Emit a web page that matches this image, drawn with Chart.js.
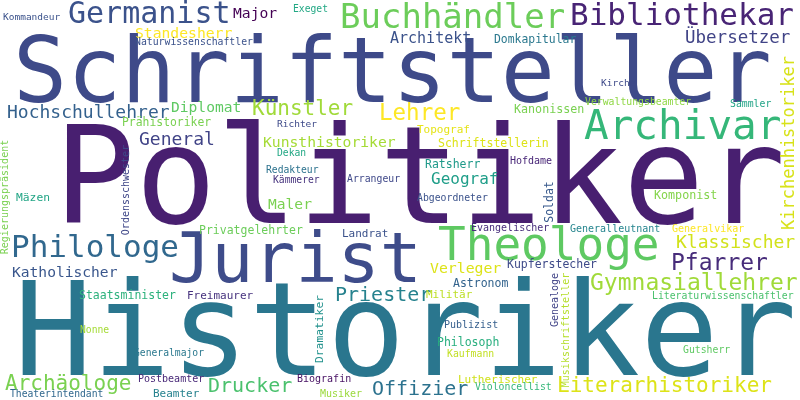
<!DOCTYPE html>
<html>
<head>
<meta charset="utf-8">
<script src="https://cdn.jsdelivr.net/npm/chart.js@4/dist/chart.umd.min.js"></script>
<style>
  body { margin: 0; background: #fff; }
</style>
</head>
<body>
<canvas id="myChart" width="800" height="400"></canvas>
<script>
// Words of the cloud
const words = [
  "Politiker", "Historiker", "Schriftsteller", "Jurist", "Theologe", "Philologe",
  "Archivar", "Buchhändler", "Bibliothekar", "Germanist", "Gymnasiallehrer", "Archäologe",
  "Drucker", "Offizier", "Literarhistoriker", "Lehrer", "Künstler", "Priester",
  "Pfarrer", "Klassischer", "Hochschullehrer", "Katholischer", "Übersetzer", "Kunsthistoriker",
  "General", "Diplomat", "Architekt", "Major", "Standesherr", "Geograf",
  "Maler", "Verleger", "Kupferstecher", "Astronom", "Staatsminister", "Freimaurer",
  "Militär", "Landrat", "Privatgelehrter", "Mäzen", "Evangelischer", "Generalleutnant",
  "Generalvikar", "Komponist", "Ratsherr", "Hofdame", "Topograf", "Schriftstellerin",
  "Redakteur", "Kämmerer", "Arrangeur", "Abgeordneter", "Dekan", "Richter",
  "Prähistoriker", "Kanonissen", "Verwaltungsbeamter", "Sammler", "Kirche", "Domkapitular",
  "Naturwissenschaftler", "Kommandeur", "Exeget", "Publizist", "Philosoph", "Kaufmann",
  "Literaturwissenschaftler", "Gutsherr", "Nonne", "Generalmajor", "Postbeamter", "Biografin",
  "Beamter", "Musiker", "Lutherischer", "Violoncellist", "Theaterintendant",
  // vertical words
  "Kirchenhistoriker", "Regierungspräsident", "Ordensschwester", "Soldat", "Genealoge",
  "Musikschriftsteller", "Dramatiker"
];

// Font size of each word (its weight in the cloud)
const sizes = [
  135, 130, 90, 70, 46, 31,
  41, 34, 31, 30, 23, 21,
  20, 20, 21, 22.5, 21, 20,
  23, 18, 18, 14.6, 17.5, 14.7,
  18, 14.6, 15, 14.7, 14.7, 16,
  14.6, 14.8, 11.5, 11.5, 11.5, 11,
  11, 11, 11.5, 11.3, 10, 10,
  10, 11.7, 11.5, 10, 11, 11.5,
  9.7, 9.7, 9.8, 9.8, 9.7, 9.5,
  11.4, 11.7, 9.8, 9.8, 9.5, 11.4,
  9.8, 9.5, 9.7, 10, 11.5, 9.8,
  9.8, 9.8, 9.7, 9.7, 10, 10,
  11, 10, 11, 9.8, 9.7,
  17, 10, 10, 11.5, 10,
  10, 11.3
];

// Anchor of each word: left / baseline for horizontal words, centre for vertical ones
const posX = [
  54, 14, 13, 169, 438, 11,
  584, 340, 570, 68, 590, 5,
  208, 372, 557, 379, 252, 335,
  671, 676, 7, 12, 685, 263,
  139, 171, 390, 233, 135, 431,
  268, 430, 507, 453, 79, 187,
  426, 342, 199, 16, 471, 570,
  672, 654, 425, 510, 417, 438,
  266, 273, 347, 417, 277, 277,
  122, 514, 585, 730, 601, 494,
  135, 3, 293, 444, 437, 447,
  652, 683, 80, 134, 138, 297,
  153, 320, 458, 475, 10,
  790, 5, 126, 550, 555,
  566, 320
];
const posY = [
  223, 375, 102, 282, 260, 257,
  139, 28, 25, 23, 290, 390,
  392, 395, 392, 120, 115, 301,
  270, 248, 118, 277, 43, 147,
  145, 112, 43, 18, 38, 184,
  209, 273, 268, 287, 299, 299,
  298, 237, 234, 201, 231, 232,
  232, 199, 168, 164, 133, 147,
  173, 183, 182, 201, 156, 127,
  126, 113, 105, 107, 86, 43,
  45, 20, 12, 328, 346, 357,
  299, 353, 333, 356, 382, 382,
  397, 397, 383, 390, 397,
  143, 197, 190, 202, 300,
  330, 329
];

// Colour of each word (viridis palette)
const colours = [
  "#481f70", "#2a768e", "#3e4a89", "#3e4c8a", "#5ec962", "#31688e",
  "#35b779", "#6ccd5a", "#482475", "#3b528b", "#a0da39", "#7ad151",
  "#4ac16d", "#2c728e", "#dde318", "#fde725", "#a0da39", "#26828e",
  "#472c7a", "#d2e21b", "#34618d", "#39568c", "#414487", "#a5db36",
  "#414487", "#5ec962", "#3b528b", "#440154", "#fde725", "#1f9e89",
  "#7ad151", "#dde318", "#3e4a89", "#33638d", "#2db27d", "#46327e",
  "#bddf26", "#3b528b", "#6ccd5a", "#21a585", "#472d7b", "#25858e",
  "#fde725", "#84d44b", "#1f9a8a", "#482677", "#e5e419", "#dde318",
  "#2c728e", "#46337e", "#3f4889", "#3b528b", "#22a884", "#3e4a89",
  "#7ad151", "#7ad151", "#8fd744", "#20a386", "#3e4a89", "#2a788e",
  "#3b528b", "#3b528b", "#22a884", "#355f8d", "#29af7f", "#c2df23",
  "#4ac16d", "#5ec962", "#a5db36", "#2a788e", "#482878", "#471063",
  "#26828e", "#9bd93c", "#d0e11c", "#35b779", "#31688e",
  "#d8e219", "#7ad151", "#3f4788", "#38598c", "#414487",
  "#b5de2b", "#21918c"
];

// 0 = horizontal, -90 = reads bottom to top
const rotations = words.map((w, i) => (i >= 77 ? -90 : 0));

const points = words.map((w, i) => ({ x: posX[i], y: posY[i] }));

// Draw each word at the pixel position the scales give for its point
const wordPlugin = {
  id: "wordPlugin",
  afterDatasetsDraw(chart) {
    const ctx = chart.ctx;
    const meta = chart.getDatasetMeta(0);
    meta.data.forEach((pt, i) => {
      ctx.save();
      ctx.fillStyle = colours[i];
      ctx.font = sizes[i] + 'px "DejaVu Sans Mono"';
      ctx.translate(pt.x, pt.y);
      if (rotations[i] !== 0) {
        ctx.rotate((rotations[i] * Math.PI) / 180);
        ctx.textAlign = "center";
        ctx.textBaseline = "middle";
      } else {
        ctx.textAlign = "left";
        ctx.textBaseline = "alphabetic";
      }
      ctx.fillText(words[i], 0, 0);
      ctx.restore();
    });
  },
};

new Chart("myChart", {
  type: "scatter",
  data: {
    datasets: [
      {
        data: points,
        pointRadius: 0,
        pointHoverRadius: 0,
      },
    ],
  },
  options: {
    responsive: false,
    animation: false,
    layout: { padding: 0 },
    scales: {
      x: { type: "linear", min: 0, max: 800, display: false },
      y: { type: "linear", min: 0, max: 400, reverse: true, display: false },
    },
    plugins: {
      legend: { display: false },
      tooltip: { enabled: false },
    },
  },
  plugins: [wordPlugin],
});
</script>
</body>
</html>
